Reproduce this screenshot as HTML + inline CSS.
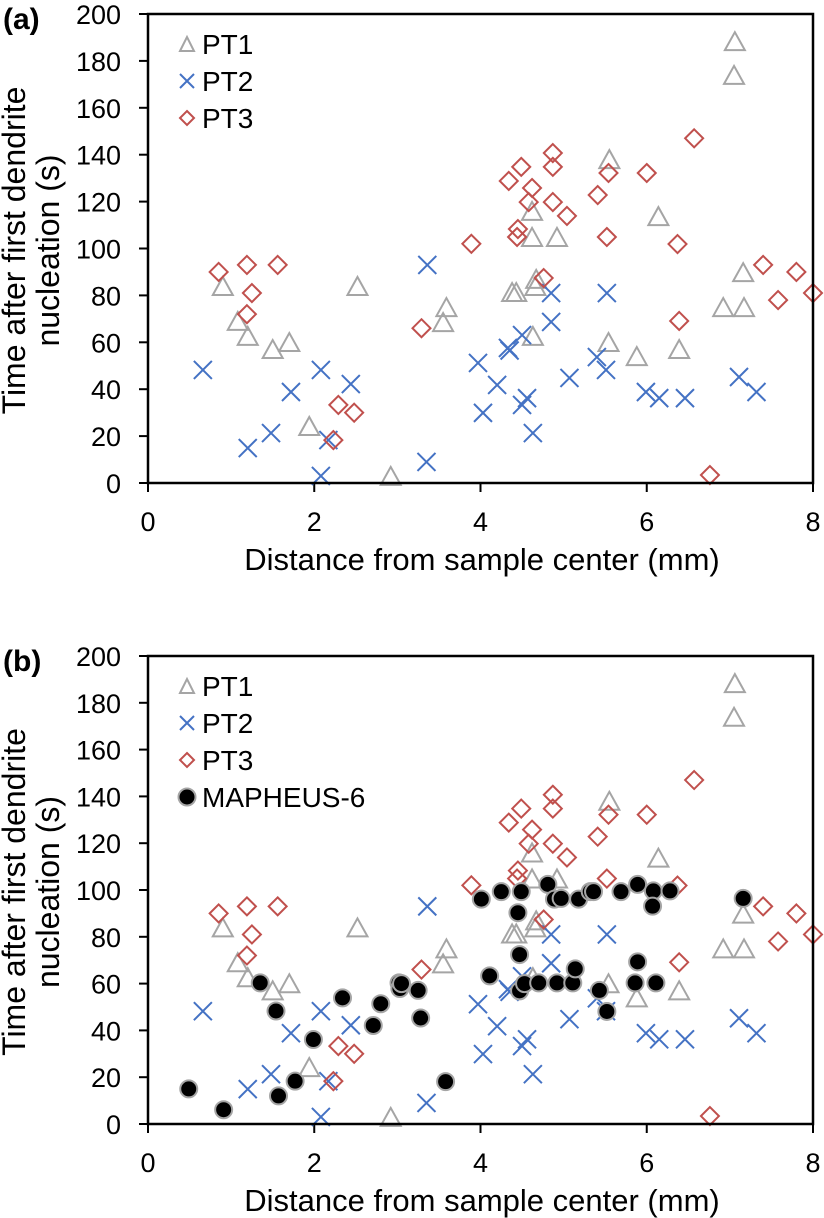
<!DOCTYPE html>
<html><head><meta charset="utf-8">
<style>
html,body{margin:0;padding:0;background:#fff;}
svg{display:block;font-family:"Liberation Sans",Arial,sans-serif;}
</style></head>
<body>
<svg id="chart" width="824" height="1218" viewBox="0 0 824 1218" xmlns="http://www.w3.org/2000/svg"></svg>
<script>
const xTicks=[0,2,4,6,8];
const yTicks=[0,20,40,60,80,100,120,140,160,180,200];
const pt1X=[0.90,1.08,1.20,1.50,1.70,1.94,2.52,3.59,3.55,2.92,7.06,7.05,5.55,6.14,4.62,4.62,4.92,7.16,4.67,4.66,4.38,4.43,6.92,7.17,4.63,5.54,5.88,6.39];
const pt1Y=[83.6,68.7,62.3,56.7,59.7,23.9,83.6,74.6,68.2,2.6,188,173.6,137.7,113.4,115.6,104.5,104.5,89.5,86.6,83.6,81,81,74.6,74.6,62.3,59.7,53.7,56.7];
const pt2X=[0.66,1.20,1.48,1.72,2.08,2.17,2.08,2.44,3.36,3.35,4.85,5.52,4.85,4.50,4.33,4.35,3.97,5.40,5.51,5.07,4.20,5.99,6.15,6.46,7.11,7.32,4.56,4.50,4.03,4.63];
const pt2Y=[48.2,14.9,21.3,38.8,48.2,18.3,3.0,42.2,93,9.0,81,81,68.7,63.1,57.6,56.5,51.2,53.7,48.2,44.8,41.8,38.8,36.2,36.2,45.2,38.8,36.2,33.3,29.9,21.3];
const pt3X=[0.85,1.19,1.56,1.25,1.19,2.29,2.48,2.23,3.29,3.89,6.57,4.87,4.87,4.49,4.34,4.62,5.54,6.00,4.58,4.87,5.04,5.41,4.45,4.44,5.52,6.37,4.76,6.39,7.40,7.80,7.58,8.0,6.76];
const pt3Y=[90,93,93,81,72,33.3,30,18.3,66,102,147,140.7,134.8,134.8,128.8,125.8,132.2,132.2,119.8,119.8,113.9,122.8,108.3,104.9,104.9,101.9,87.4,69.1,93,90,78,81,3.4];
const mapX=[0.49,0.91,1.35,1.54,1.57,1.77,1.99,2.34,2.71,2.80,3.02,3.03,3.05,3.25,3.28,3.58,4.01,4.25,4.49,4.45,4.47,4.11,4.47,4.53,4.70,4.81,4.89,4.97,4.92,5.11,5.14,5.18,5.32,5.36,5.43,5.52,5.69,5.89,5.89,5.86,6.08,6.07,6.11,6.28,7.16];
const mapY=[15,6.1,60.3,48.3,12,18.3,36.1,53.9,42.1,51.4,60.3,57.9,60,57.1,45.3,18.1,96.1,99.3,99.3,90.3,72.4,63.3,56.9,60,60.3,102.4,96.1,96.4,60.3,60.3,66.3,96.1,99.3,99.3,57.1,48.1,99.3,102.4,69.3,60.3,99.6,93.1,60.3,99.6,96.4];

const svg=document.getElementById('chart');
const NS='http://www.w3.org/2000/svg';
function mk(tag,attrs,parent,text){const e=document.createElementNS(NS,tag);for(const k in attrs)e.setAttribute(k,attrs[k]);if(text!==undefined)e.textContent=text;(parent||svg).appendChild(e);return e;}
const C1='#A5A5A5',C2='#4472C4',C3='#C0504D';
function triangle(g,x,y){return mk('path',{d:`M${x-10},${y+8}L${x},${y-10}L${x+10},${y+8}Z`,fill:'none',stroke:C1,'stroke-width':2},g);}
function cross(g,x,y){return mk('path',{d:`M${x-9},${y-9}L${x+9},${y+9}M${x-9},${y+9}L${x+9},${y-9}`,stroke:C2,'stroke-width':2,fill:'none'},g);}
function diamond(g,x,y){return mk('path',{d:`M${x},${y-9}L${x+9},${y}L${x},${y+9}L${x-9},${y}Z`,fill:'none',stroke:C3,'stroke-width':2},g);}
function dot(g,x,y){return mk('circle',{cx:x,cy:y,r:8.5,fill:'#000',stroke:C1,'stroke-width':2},g);}

function panel(id,top,bottom,label,withMap){
  const L=148,R=813;
  const sx=v=>L+v*(R-L)/8;
  const sy=v=>bottom-v*(bottom-top)/200;
  const g=mk('g',{});
  
  
  const pl=mk('text',{x:3,y:top+15,'font-size':30,'font-weight':'bold'},g,label);
  
  
  yTicks.forEach(t=>{
    const tk=mk('line',{x1:L-9,x2:L,y1:sy(t),y2:sy(t),stroke:'#000','stroke-width':2},g);
    
    
    const tl=mk('text',{x:L-27,y:sy(t)+10,'font-size':27,'text-anchor':'end'},g,String(t));
    
    
  });
  xTicks.forEach(t=>{
    const tk=mk('line',{x1:sx(t),x2:sx(t),y1:bottom,y2:bottom+9,stroke:'#000','stroke-width':2},g);
    
    
    const tl=mk('text',{x:sx(t),y:bottom+48,'font-size':27,'text-anchor':'middle'},g,String(t));
    
    
  });
  const xt=mk('text',{x:482,y:bottom+87,'font-size':31,'text-anchor':'middle'},g,'Distance from sample center (mm)');
  
  
  const cy=(top+bottom)/2+2;
  const yt=mk('text',{transform:`translate(25,${cy}) rotate(-90)`,'font-size':32,'text-anchor':'middle'},g);
  
  
  mk('tspan',{x:0,y:0},yt,'Time after first dendrite');
  mk('tspan',{x:0,y:34},yt,'nucleation (s)');
  const s1=mk('g',{},g);
  pt1X.forEach((v,i)=>{const m=triangle(s1,sx(v),sy(pt1Y[i]));});
  const s2=mk('g',{},g);
  pt2X.forEach((v,i)=>{const m=cross(s2,sx(v),sy(pt2Y[i]));});
  const s3=mk('g',{},g);
  pt3X.forEach((v,i)=>{const m=diamond(s3,sx(v),sy(pt3Y[i]));});
  if(withMap){
    const s4=mk('g',{},g);
    mapX.forEach((v,i)=>{const m=dot(s4,sx(v),sy(mapY[i]));});
  }
  const fr=mk('rect',{x:L,y:top,width:R-L,height:bottom-top,fill:'none',stroke:'#000','stroke-width':2.5},g);
  
  
  const lg=mk('g',{},g);
  const names=['PT1','PT2','PT3'].concat(withMap?['MAPHEUS-6']:[]);
  names.forEach((n,i)=>{
    const ly=top+30+i*37;
    const e=mk('g',{},lg);
    
    
    if(i===0)mk('path',{d:`M180,${ly+7}L187,${ly-7}L194,${ly+7}Z`,fill:'none',stroke:C1,'stroke-width':2},e);
    else if(i===1)mk('path',{d:`M180,${ly-7}L194,${ly+7}M180,${ly+7}L194,${ly-7}`,stroke:C2,'stroke-width':2},e);
    else if(i===2)mk('path',{d:`M187,${ly-7}L194,${ly}L187,${ly+7}L180,${ly}Z`,fill:'none',stroke:C3,'stroke-width':2},e);
    else dot(e,187,ly);
    mk('text',{x:202,y:ly+10,'font-size':28},e,n);
  });
}
panel('a',14,483,'(a)',false);
panel('b',656,1124,'(b)',true);
</script>
</body></html>
